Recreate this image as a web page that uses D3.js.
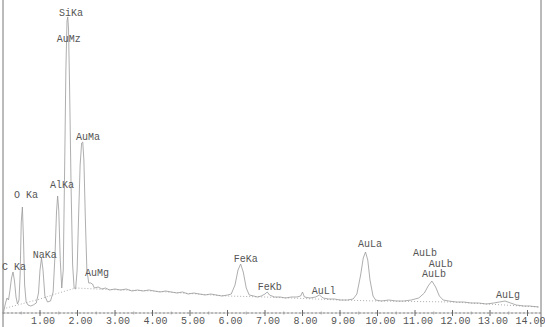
<!DOCTYPE html>
<html>
<head>
<meta charset="utf-8">
<script src="https://cdn.jsdelivr.net/npm/d3@7/dist/d3.min.js"></script>
<style>
  html, body { margin: 0; padding: 0; background: #fff; }
  svg { display: block; }
  text { font-family: "Liberation Mono", "DejaVu Sans Mono", monospace; fill: #555; }
</style>
</head>
<body>
<svg id="chart" width="545" height="327"></svg>
<script>
// EDS spectrum: energy (keV) and counts
const energy = [
  0.03, 0.08, 0.12, 0.16, 0.20, 0.24, 0.28, 0.32, 0.36, 0.40, 0.44, 0.47, 0.50, 0.53, 0.56, 0.59,
  0.63, 0.68, 0.75, 0.82, 0.90, 0.96, 1.00, 1.04, 1.08, 1.13, 1.20, 1.28, 1.35, 1.40, 1.44, 1.47,
  1.50, 1.54, 1.58, 1.62, 1.66, 1.69, 1.72, 1.74, 1.76, 1.79, 1.83, 1.87, 1.91, 1.95, 1.99, 2.03,
  2.07, 2.11, 2.14, 2.17, 2.21, 2.25, 2.30, 2.35, 2.40, 2.45, 2.55, 2.65, 2.75, 2.85, 3.00, 3.15,
  3.30, 3.45, 3.60, 3.75, 3.90, 4.05, 4.20, 4.35, 4.50, 4.65, 4.80, 4.95, 5.10, 5.25, 5.40, 5.55,
  5.70, 5.85, 6.00, 6.10, 6.20, 6.28, 6.35, 6.42, 6.50, 6.58, 6.70, 6.80, 6.90, 7.00, 7.06, 7.12,
  7.25, 7.40, 7.55, 7.70, 7.85, 7.95, 8.00, 8.05, 8.20, 8.35, 8.45, 8.55, 8.70, 8.85, 9.00, 9.20,
  9.35, 9.45, 9.55, 9.62, 9.68, 9.74, 9.80, 9.88, 9.95, 10.10, 10.30, 10.50, 10.70, 10.90, 11.10, 11.25,
  11.35, 11.45, 11.55, 11.65, 11.75, 11.90, 12.10, 12.30, 12.50, 12.70, 12.90, 13.10, 13.25, 13.40, 13.55, 13.70,
  13.90, 14.05, 14.30
];
const counts = [
  1, 10, 15, 13, 23, 35, 41, 32, 16, 9, 13, 38, 91, 106, 73, 28,
  11, 8, 7, 8, 10, 20, 43, 55, 43, 17, 11, 12, 21, 58, 101, 117,
  103, 53, 25, 43, 153, 243, 292, 296, 285, 223, 123, 48, 25, 24, 43, 98,
  148, 170, 171, 153, 93, 43, 30, 30, 29, 25, 26, 24, 25, 23, 24, 23,
  24, 22, 23, 22, 23, 22, 21, 22, 21, 20, 21, 19, 20, 19, 18, 19,
  18, 17, 18, 19, 28, 43, 49, 41, 25, 18, 17, 16, 17, 19, 21, 18,
  16, 16, 15, 16, 16, 17, 21, 16, 15, 16, 18, 15, 14, 14, 13, 13,
  14, 19, 38, 55, 61, 53, 33, 17, 13, 12, 13, 12, 12, 13, 15, 20,
  27, 32, 26, 17, 13, 12, 11, 11, 10, 10, 9, 10, 11, 12, 10, 8,
  7, 7, 6
];

// fitted background continuum
const bgEnergy = [0.10, 0.50, 1.00, 1.50, 1.95, 2.50, 4.00, 6.00, 7.00, 9.00, 10.00, 12.00, 14.30];
const bgCounts = [5, 9, 14, 20, 25, 24, 22, 17, 16, 13, 12, 11, 6];

// peak identification labels (centre energy, baseline level in counts)
const peakNames  = ["SiKa", "AuMz", "AuMa", "AlKa", "O Ka", "NaKa", "C Ka", "AuMg",
                    "FeKa", "FeKb", "AuLl", "AuLa", "AuLb", "AuLb", "AuLb", "AuLg"];
const peakLabelE = [1.83, 1.77, 2.28, 1.59, 0.63, 1.13, 0.31, 2.52,
                    6.49, 7.13, 8.57, 9.80, 11.27, 11.69, 11.51, 13.48];
const peakLabelC = [297, 271, 173, 125, 115, 55, 43, 37,
                    51, 23, 19, 66, 57, 46, 36, 15];

const tickValues = [1, 2, 3, 4, 5, 6, 7, 8, 9, 10, 11, 12, 13, 14];
const tickLabels = ["1.00", "2.00", "3.00", "4.00", "5.00", "6.00", "7.00",
                    "8.00", "9.00", "10.00", "11.00", "12.00", "13.00", "14.00"];

const W = 545, H = 327;
const svg = d3.select("#chart");

const x = d3.scaleLinear().domain([0, 14.36]).range([2.5, 541]);
const y = d3.scaleLinear().domain([0, 301]).range([313, 12]);

// frame verticals
svg.append("line").attr("x1", 3).attr("x2", 3).attr("y1", 0).attr("y2", H)
  .attr("stroke", "#777").attr("stroke-width", 1);
svg.append("line").attr("x1", 541).attr("x2", 541).attr("y1", 0).attr("y2", H)
  .attr("stroke", "#777").attr("stroke-width", 1);

// energy axis
const axisG = svg.append("g").attr("transform", `translate(0,${y(0)})`);
axisG.append("line").attr("x1", x(0)).attr("x2", x(14.36)).attr("y1", 0).attr("y2", 0)
  .attr("stroke", "#777").attr("stroke-width", 1).attr("stroke-dasharray", "3,1");
axisG.selectAll(".minor").data(d3.range(0.5, 14.3, 1)).join("line")
  .attr("x1", d => x(d)).attr("x2", d => x(d)).attr("y1", -1.5).attr("y2", 1.5)
  .attr("stroke", "#999").attr("stroke-width", 0.8);
axisG.selectAll(".major").data(tickValues).join("line")
  .attr("x1", d => x(d)).attr("x2", d => x(d)).attr("y1", -3).attr("y2", 3)
  .attr("stroke", "#666").attr("stroke-width", 1);
axisG.selectAll(".tl").data(tickValues).join("text")
  .attr("x", d => x(d) + 3).attr("y", 11)
  .attr("text-anchor", "middle").attr("font-size", 10)
  .text((d, i) => tickLabels[i]);

// background continuum (dotted)
const bgPts = bgEnergy.map((e, i) => [e, bgCounts[i]]);
svg.append("path")
  .attr("d", d3.line().x(d => x(d[0])).y(d => y(d[1]))(bgPts))
  .attr("fill", "none").attr("stroke", "#999").attr("stroke-width", 0.8)
  .attr("stroke-dasharray", "1,2");

// spectrum trace
const pts = energy.map((e, i) => [e, counts[i]]);
svg.append("path")
  .attr("d", d3.line().x(d => x(d[0])).y(d => y(d[1]))(pts))
  .attr("fill", "none").attr("stroke", "#999").attr("stroke-width", 0.8)
  .attr("stroke-linejoin", "round");

// peak labels
svg.selectAll(".pl").data(peakNames).join("text")
  .attr("x", (d, i) => x(peakLabelE[i]))
  .attr("y", (d, i) => y(peakLabelC[i]))
  .attr("text-anchor", "middle").attr("font-size", 10)
  .text(d => d);
</script>
</body>
</html>
